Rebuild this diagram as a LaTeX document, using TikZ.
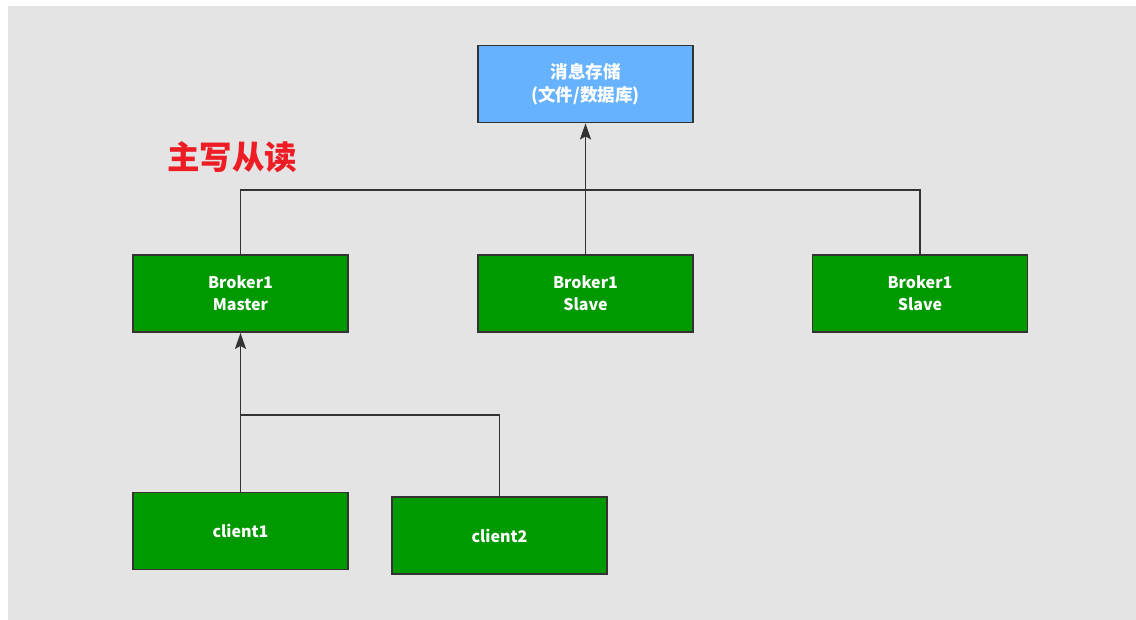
\documentclass[tikz,border=0pt]{standalone}
\usepackage{fontspec}
\setmainfont{Noto Sans CJK SC}
\usepackage{xcolor}
\usetikzlibrary{positioning,arrows.meta}
\definecolor{canvas}{HTML}{E4E4E4}
\definecolor{nodeG}{HTML}{009900}
\definecolor{storeB}{HTML}{66B2FF}
\definecolor{edgeK}{HTML}{333333}
\definecolor{titleR}{HTML}{EE1C25}
\tikzset{
  box/.style    ={rectangle, draw=edgeK, line width=1.8pt, inner sep=0pt,
                  minimum width=215pt, minimum height=77pt, align=center,
                  text=white, font=\fontsize{16}{22}\selectfont\bfseries},
  broker/.style ={box, fill=nodeG},
  store/.style  ={box, fill=storeB, font=\fontsize{17.5}{23}\selectfont\bfseries},
  % plain connector; add -> for the ones that end in a tip
  link/.style   ={draw=edgeK, line width=1.9pt},
  >={Stealth[length=16pt,width=11pt,inset=3pt]},
}
\def\brokerlist{master/240.5/Master, slaveA/585.5/Slave, slaveB/920/Slave}
\begin{document}
\begin{tikzpicture}[x=1pt,y=-1pt]
\useasboundingbox (0,0) rectangle (1136,620);
\fill[white] (0,0) rectangle (1136,620);
\fill[canvas] (8,6) rectangle (1136,620);
\node[store] (store) at (585.5,84) {消息存储\\(文件/数据库)};
\node[titleR,font=\fontsize{32.5}{36}\selectfont\bfseries] (title) at (232,157) {主写从读};
\foreach \n/\x/\lab in \brokerlist {\node[broker] (\n) at (\x,293.5) {Broker1\\\lab};}
\node[broker] (client1) at (240.5,531) {client1};
\node[broker] (client2) at (499.5,535.5) {client2};
% --- upper bus: master and slaves to the store ---
\coordinate (topbus) at (585.5,190);
\draw[link] (master.north) |- (topbus) -| (slaveB.north);
\draw[link,->] (slaveA.north) -- (store.south);
% --- lower bus: clients to the master ---
\coordinate (lowbus) at (240.5,415);
\draw[link,->] (client1.north) -- (master.south);
\draw[link] (lowbus) -| (client2.north);
\end{tikzpicture}
\end{document}
